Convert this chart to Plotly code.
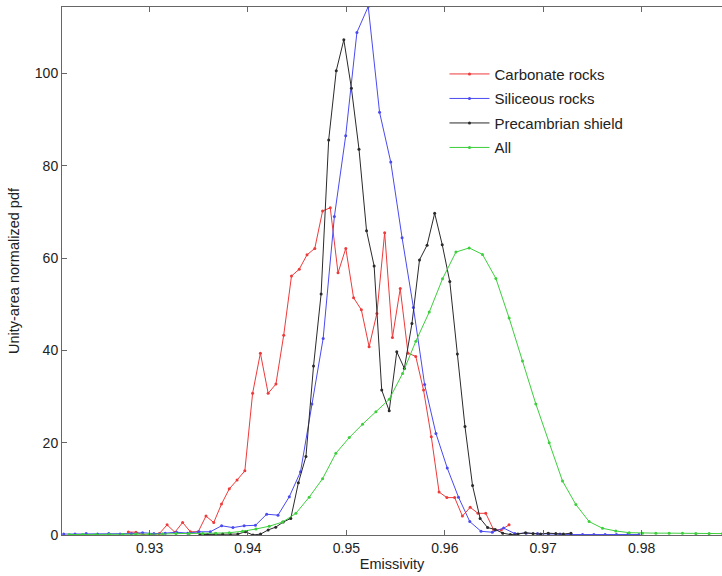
import plotly.graph_objects as go

# ---------------- data ----------------
carb_x = [0.92784, 0.92862, 0.92941, 0.93020, 0.93099, 0.93178, 0.93257, 0.93336, 0.93415, 0.93494,
          0.93573, 0.93652, 0.93731, 0.93810, 0.93889, 0.93968, 0.94047, 0.94126, 0.94205, 0.94284,
          0.94363, 0.94442, 0.94521, 0.94600, 0.94679, 0.94758, 0.94836, 0.94915, 0.94994, 0.95073,
          0.95152, 0.95231, 0.95310, 0.95389, 0.95468, 0.95547, 0.95626, 0.95705, 0.95784, 0.95863,
          0.95942, 0.96021, 0.96100, 0.96179, 0.96258, 0.96337, 0.96416, 0.96495, 0.96574, 0.96653]
carb_y = [0.65, 0.6, 0.0, 0.0, 0.3, 2.2, 0.6, 2.7, 0.7, 0.7,
          4.1, 2.7, 6.7, 10.0, 11.9, 13.9, 30.7, 39.4, 30.7, 32.7,
          43.3, 56.1, 57.6, 60.7, 62.1, 70.2, 70.9, 56.8, 62.1, 51.4,
          48.8, 40.8, 48.0, 65.5, 42.8, 53.4, 39.4, 38.7, 31.4, 21.3,
          9.3, 8.1, 8.1, 4.1, 6.0, 4.7, 4.7, 1.2, 1.1, 2.2]

sil_x = [0.92127, 0.92242, 0.92356, 0.92471, 0.92586, 0.92700, 0.92815, 0.92929, 0.93044, 0.93159,
         0.93273, 0.93388, 0.93503, 0.93617, 0.93732, 0.93847, 0.93961, 0.94076, 0.94190, 0.94305,
         0.94420, 0.94534, 0.94649, 0.94764, 0.94878, 0.94993, 0.95107, 0.95222, 0.95337, 0.95451,
         0.95566, 0.95681, 0.95795, 0.95910, 0.96025, 0.96139, 0.96254, 0.96368, 0.96483, 0.96598,
         0.96712, 0.96827, 0.96942, 0.97056, 0.97171, 0.97285, 0.97400, 0.97515, 0.97629, 0.97744,
         0.97859, 0.97973]
sil_y = [0.2, 0.2, 0.3, 0.2, 0.3, 0.2, 0.3, 0.5, 0.3, 0.4,
         0.6, 0.4, 0.7, 0.7, 2.0, 1.6, 2.0, 2.1, 4.5, 4.3,
         8.3, 13.7, 28.4, 42.6, 69.0, 86.5, 108.9, 114.5, 91.6, 80.8,
         64.4, 49.3, 32.6, 22.0, 14.5, 8.2, 2.9, 0.8, 0.6, 1.5,
         0.3, 0.4, 0.3, 0.2, 0.2, 0.1, 0.1, 0.1, 0.1, 0.1,
         0.1, 0.1]

pre_x = [0.93512, 0.93589, 0.93666, 0.93743, 0.93820, 0.93897, 0.93974, 0.94051, 0.94128, 0.94205,
         0.94282, 0.94358, 0.94435, 0.94512, 0.94589, 0.94666, 0.94743, 0.94820, 0.94897, 0.94974,
         0.95051, 0.95128, 0.95205, 0.95282, 0.95359, 0.95435, 0.95512, 0.95589, 0.95666, 0.95743,
         0.95820, 0.95897, 0.95974, 0.96051, 0.96128, 0.96205, 0.96282, 0.96359, 0.96435, 0.96512,
         0.96589, 0.96666, 0.96743, 0.96820, 0.96897, 0.96974, 0.97051, 0.97128, 0.97205, 0.97282]
pre_y = [0.1, 0.1, 0.2, 0.2, 0.1, 0.2, 0.7, 0.0, 0.2, 1.1,
         1.7, 2.8, 3.6, 11.3, 17.0, 36.6, 52.2, 85.6, 100.6, 107.3,
         96.8, 83.6, 65.9, 58.3, 31.4, 26.9, 39.7, 36.1, 45.8, 59.6,
         62.8, 69.7, 62.9, 54.9, 39.2, 23.5, 10.7, 3.6, 1.6, 1.2,
         0.4, 0.1, 0.2, 0.5, 0.3, 0.2, 0.4, 0.3, 0.2, 0.4]

all_x = [0.92184, 0.92319, 0.92455, 0.92590, 0.92726, 0.92861, 0.92997, 0.93132, 0.93268, 0.93403,
         0.93539, 0.93674, 0.93810, 0.93945, 0.94081, 0.94216, 0.94351, 0.94487, 0.94622, 0.94758,
         0.94893, 0.95029, 0.95164, 0.95300, 0.95435, 0.95571, 0.95706, 0.95842, 0.95977, 0.96113,
         0.96248, 0.96383, 0.96519, 0.96654, 0.96790, 0.96925, 0.97061, 0.97196, 0.97332, 0.97467,
         0.97603, 0.97738, 0.97874, 0.98009, 0.98145, 0.98280, 0.98415, 0.98551, 0.98686, 0.98822]
all_y = [0.1, 0.1, 0.1, 0.1, 0.1, 0.2, 0.2, 0.2, 0.3, 0.3,
         0.3, 0.4, 0.5, 0.8, 1.3, 1.9, 2.8, 4.7, 8.2, 12.2,
         17.7, 21.1, 24.0, 26.7, 29.4, 35.0, 42.0, 48.3, 55.5, 61.3,
         62.2, 60.8, 55.6, 47.0, 37.7, 28.4, 20.0, 11.7, 6.6, 2.9,
         1.45, 0.87, 0.5, 0.4, 0.4, 0.4, 0.4, 0.3, 0.3, 0.3]

series_names = ["Carbonate rocks", "Siliceous rocks", "Precambrian shield", "All"]
x_ticks = [0.93, 0.94, 0.95, 0.96, 0.97, 0.98]
y_ticks = [0, 20, 40, 60, 80, 100]

# ---------------- figure ----------------
colors = ["#ee3a3a", "#4a4af0", "#2a2a2a", "#3ccf3c"]
data = [(carb_x, carb_y), (sil_x, sil_y), (pre_x, pre_y), (all_x, all_y)]
FONT = "Liberation Sans, Arial, sans-serif"

fig = go.Figure()
for i, ((xs, ys), name, c) in enumerate(zip(data, series_names, colors)):
    fig.add_trace(go.Scatter(
        x=xs, y=ys, name=name, mode="lines+markers",
        line=dict(color=c, width=1),
        marker=dict(color=c, size=3),
        legendgroup=f"g{i}",
    ))

axis_common = dict(
    showgrid=False, zeroline=False, showline=True, linecolor="#666666", linewidth=1,
    ticks="inside", ticklen=5, tickcolor="#666666",
    tickfont=dict(family=FONT, size=14, color="#222222"),
)

fig.update_layout(
    width=722, height=576,
    margin=dict(l=62, r=0, t=7, b=41),
    paper_bgcolor="white", plot_bgcolor="white",
    font=dict(family=FONT, size=14, color="#222222"),
    xaxis=dict(range=[0.9211, 0.98817], tickvals=x_ticks, mirror="ticks",
               ticktext=[f"{v:.2f}" for v in x_ticks],
               title=dict(text="Emissivity", standoff=2, font=dict(size=14.5)), **axis_common),
    yaxis=dict(range=[0, 114.4], tickvals=y_ticks, mirror=False,
               title=dict(text="Unity-area normalized pdf", standoff=11, font=dict(size=14.5)),
               **axis_common),
    legend=dict(x=0.5795, y=0.904, xanchor="left", yanchor="top",
                bgcolor="rgba(255,255,255,0)", borderwidth=0,
                font=dict(family=FONT, size=15, color="#222222"),
                itemwidth=40,
                tracegroupgap=2, traceorder="grouped"),
    showlegend=True,
)

fig.write_html("out.html")
